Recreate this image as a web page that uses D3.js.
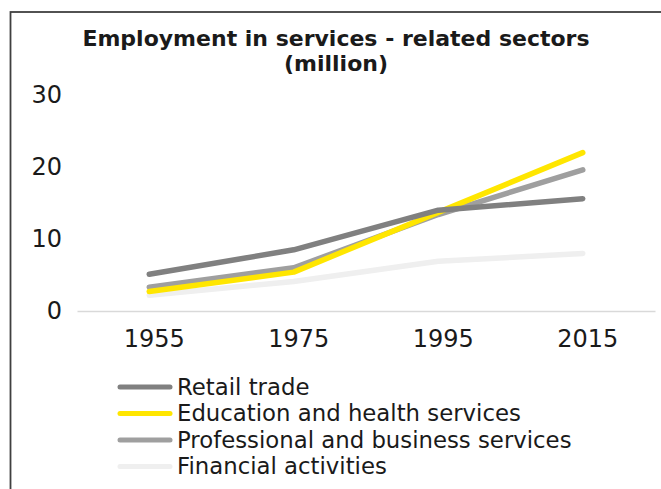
<!DOCTYPE html>
<html lang="en">
<head>
  <meta charset="UTF-8">
  <title>Employment in services - related sectors</title>
  <script src="https://d3js.org/d3.v7.min.js"></script>
  <style>
    body { margin: 0; background: #fff; }
    text { font-family: "DejaVu Sans", sans-serif; fill: #1a1a1a; }
  </style>
</head>
<body>
  <script>
    // data
    let years = ['1955', '1975', '1995', '2015']
    let retail = [5.1, 8.5, 14.0, 15.6]
    let education = [2.7, 5.4, 13.7, 22.0]
    let professional = [3.3, 6.0, 13.4, 19.6]
    let financial = [2.2, 4.1, 6.9, 8.0]
    let yTicks = [0, 10, 20, 30]

    let series = [
      { name: 'Retail trade', values: retail, color: '#808080' },
      { name: 'Education and health services', values: education, color: '#ffe600' },
      { name: 'Professional and business services', values: professional, color: '#9f9f9f' },
      { name: 'Financial activities', values: financial, color: '#efefef' }
    ]

    let svg = d3.select('body')
      .append('svg')
      .attr('width', 661)
      .attr('height', 489)

    // chart frame (only top and left edges are inside the picture)
    svg.append('rect')
      .attr('x', 10.5).attr('y', 12)
      .attr('width', 800).attr('height', 800)
      .attr('fill', 'none')
      .attr('stroke', '#404040')
      .attr('stroke-width', 1.8)

    // title
    let title = svg.append('text')
      .attr('text-anchor', 'middle')
      .style('font-weight', 'bold')
      .style('font-size', '22px')
    title.append('tspan').attr('x', 336).attr('y', 46).text('Employment in services - related sectors')
    title.append('tspan').attr('x', 336).attr('y', 71).text('(million)')

    let x = d3.scaleBand().domain(years).range([77, 655])
    let y = d3.scaleLinear().domain([0, 30]).range([311, 95])
    let cx = d => x(d) + x.bandwidth() / 2

    // y axis labels
    let yAxis = svg.append('g')
      .attr('transform', 'translate(62,0)')
      .call(d3.axisLeft(y).tickValues(yTicks).tickSize(0).tickPadding(0))
    yAxis.select('.domain').remove()
    yAxis.selectAll('text')
      .style('font-size', '24px')
      .style('font-family', '"DejaVu Sans", sans-serif')
      .attr('fill', '#1a1a1a')

    // x axis with baseline
    let xAxis = svg.append('g')
      .attr('transform', 'translate(0,311)')
      .call(d3.axisBottom(x).tickSize(0).tickSizeOuter(0))
    xAxis.select('.domain').attr('stroke', '#d9d9d9').attr('stroke-width', 1.5)
    xAxis.selectAll('text')
      .attr('y', 36)
      .attr('dy', 0)
      .attr('dx', 5)
      .style('font-size', '24px')
      .style('font-family', '"DejaVu Sans", sans-serif')
      .attr('fill', '#1a1a1a')

    let line = d3.line()
      .x((v, i) => cx(years[i]))
      .y(v => y(v))

    svg.selectAll('.series')
      .data(series.slice().reverse())
      .enter()
      .append('path')
      .attr('class', 'series')
      .attr('d', d => line(d.values))
      .attr('fill', 'none')
      .attr('stroke', d => d.color)
      .attr('stroke-width', 5.5)
      .attr('stroke-linecap', 'round')
      .attr('stroke-linejoin', 'round')

    // legend
    let legend = svg.selectAll('.legend')
      .data(series)
      .enter()
      .append('g')
      .attr('class', 'legend')
      .attr('transform', (d, i) => 'translate(0,' + (387 + i * 26.5) + ')')
    legend.append('line')
      .attr('x1', 120).attr('x2', 170)
      .attr('stroke', d => d.color)
      .attr('stroke-width', 5)
      .attr('stroke-linecap', 'round')
    legend.append('text')
      .attr('x', 177)
      .attr('y', 7.5)
      .style('font-size', '22.8px')
      .text(d => d.name)
  </script>
</body>
</html>
